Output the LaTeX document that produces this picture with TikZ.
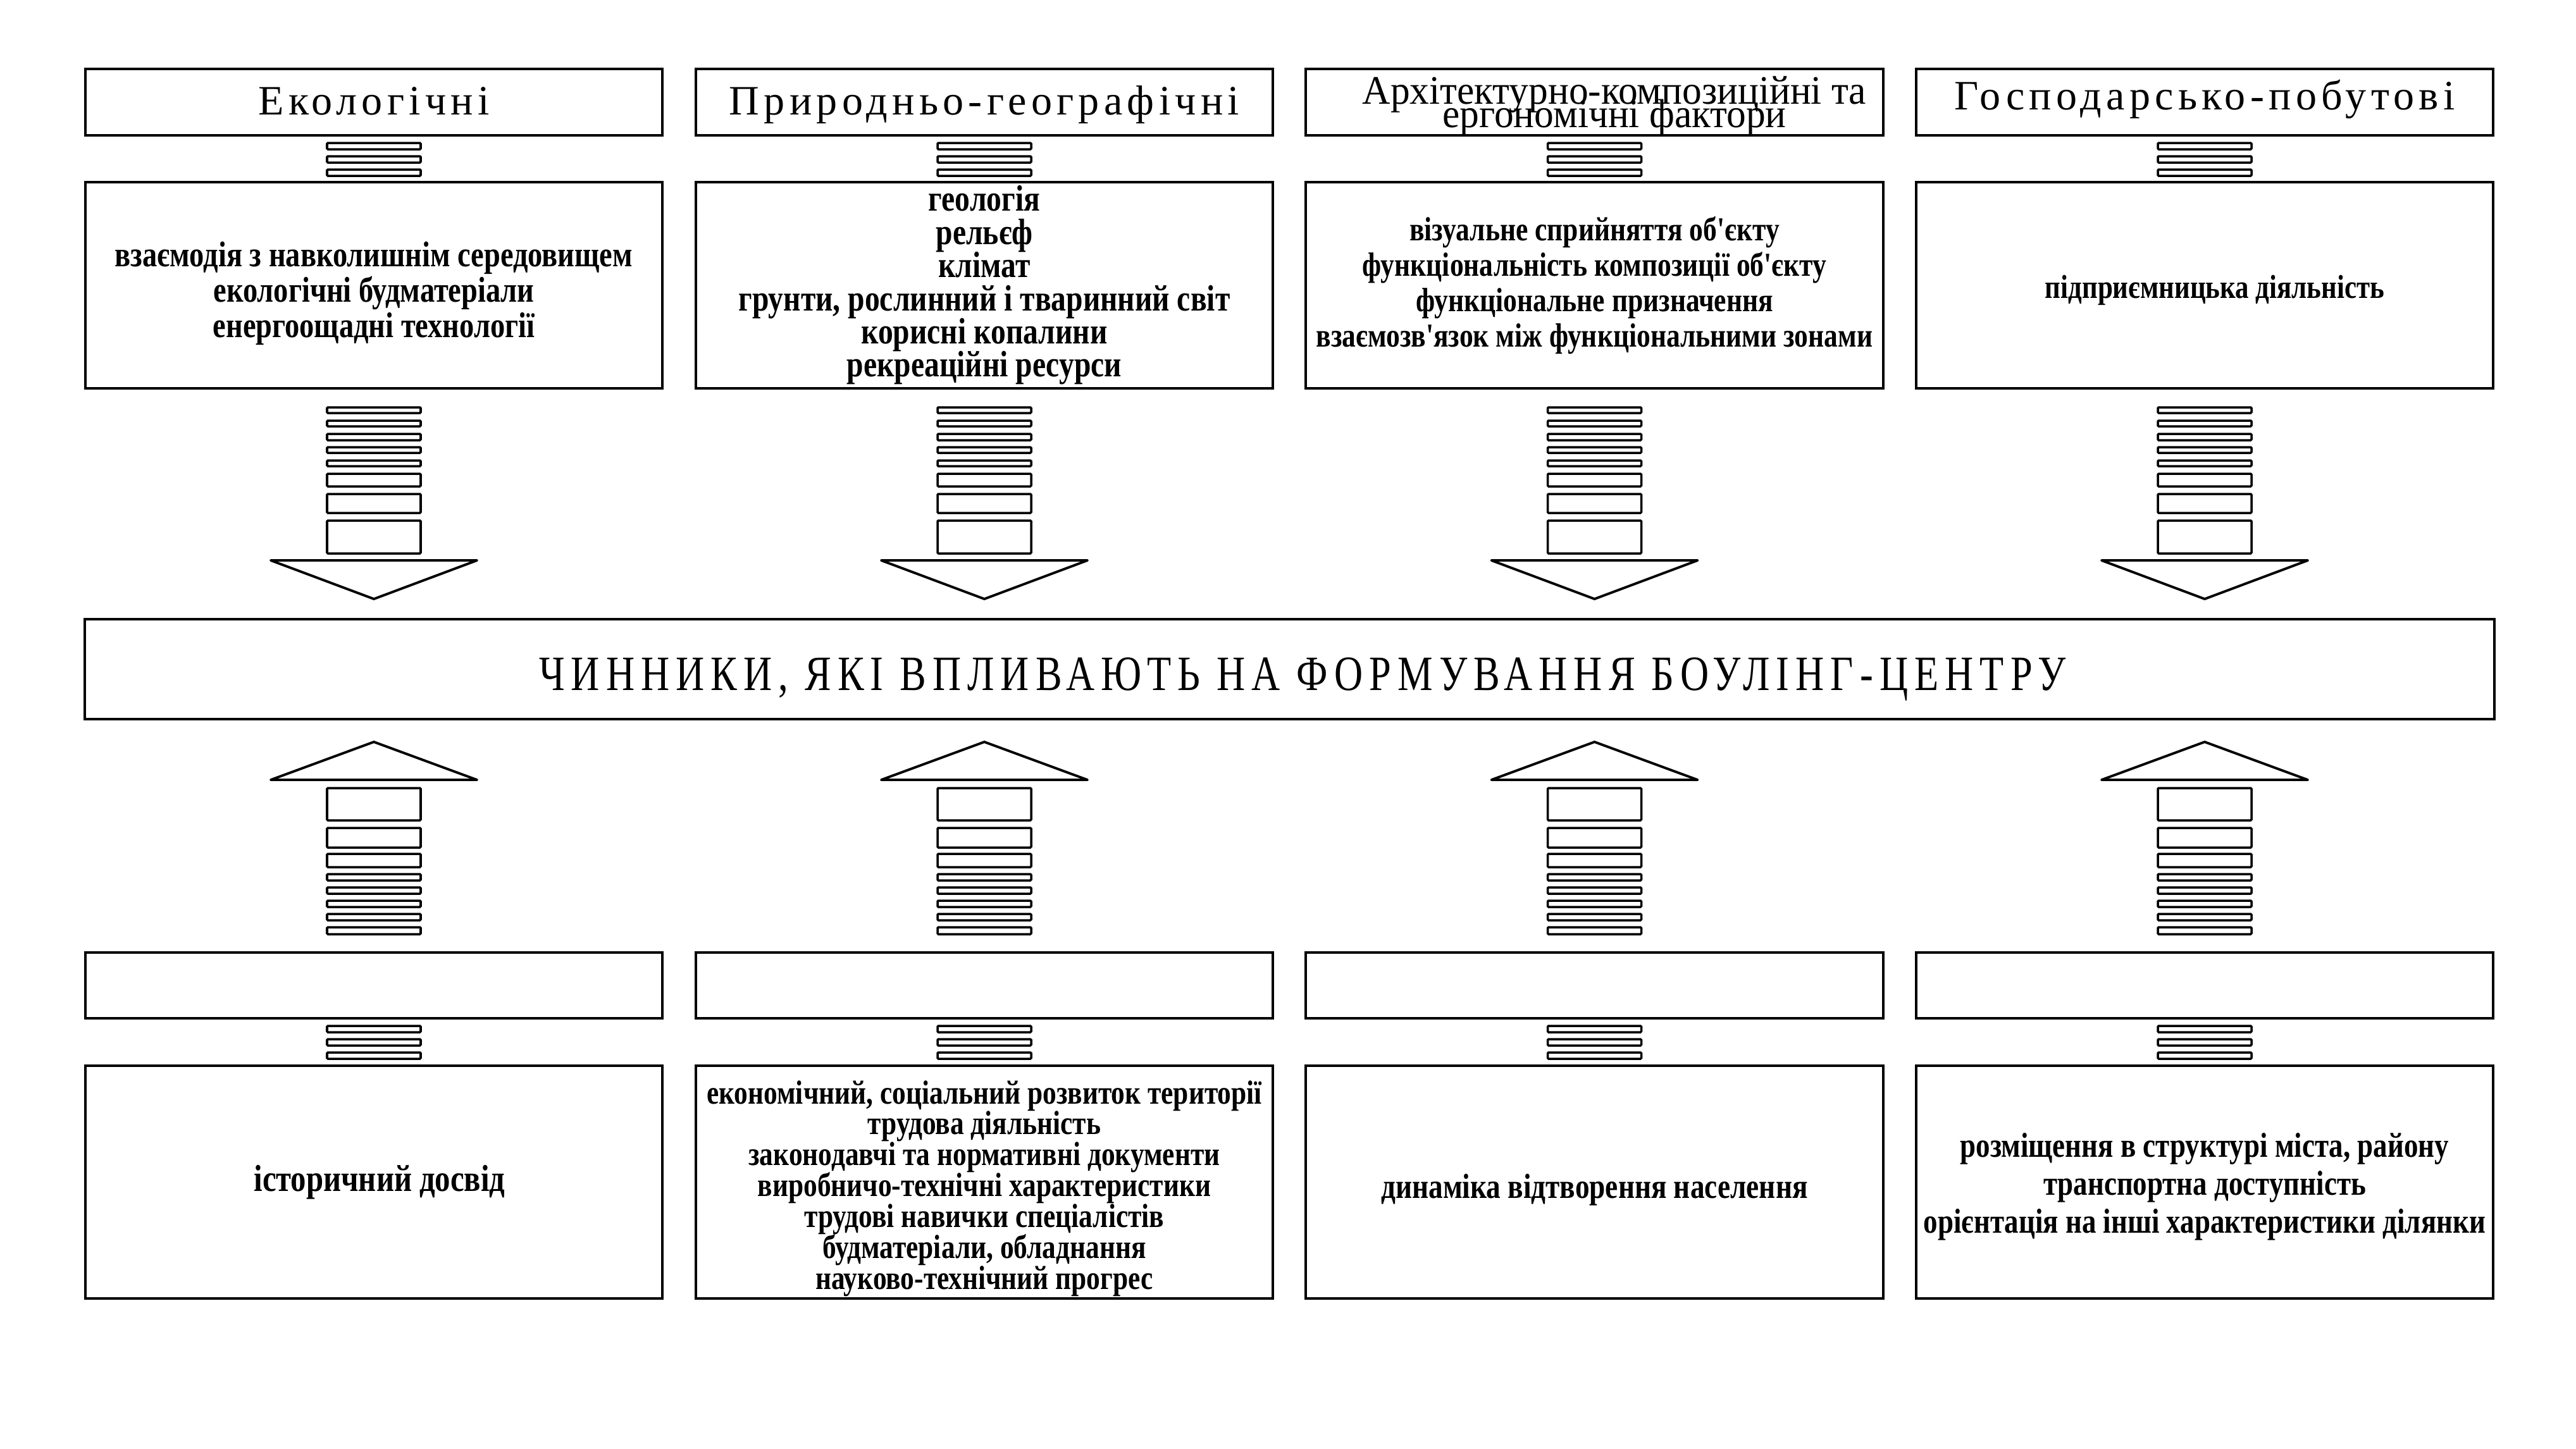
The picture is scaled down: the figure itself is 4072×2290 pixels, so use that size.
\documentclass[tikz,border=0pt]{standalone}
\usepackage{fontspec}
\setmainfont{Liberation Serif}
\newfontfamily\hdrfont[LetterSpace=11]{Liberation Serif}
\newfontfamily\ctrfont[LetterSpace=13,FakeStretch=0.8]{Liberation Serif}
\newfontfamily\archfont[FakeStretch=0.96]{Liberation Serif}
\newfontfamily\cntfont[FakeStretch=0.82]{Liberation Serif}
\begin{document}
\begin{tikzpicture}[x=0.01cm,y=-0.01cm,
  box/.style={draw, line width=1.1pt, inner sep=0pt, minimum width=9.12cm},
  hbox/.style={box, minimum height=1.05cm},
  cbox/.style={box, minimum height=3.26cm},
  bbox/.style={box, minimum height=3.68cm},
  ebox/.style={box, minimum height=1.04cm},
  htxt/.style={anchor=base, inner sep=0pt, font={\hdrfont\fontsize{18.8pt}{20pt}\selectfont}},
  ctxt/.style 2 args={inner sep=0pt, align=center,
     font={\cntfont\bfseries\fontsize{#1}{#2}\selectfont\lineskiplimit=-30pt\relax}},
  stripe/.style={draw, line width=1pt, rounded corners=0.4pt},
  tri/.style={draw, line width=1.1pt, line join=round}]
\useasboundingbox (0,0) rectangle (4072,2290);

% top headers
\node[hbox] (h1) at (591,161.5) {};
\node[hbox] (h2) at (1556,161.5) {};
\node[hbox] (h3) at (2520.5,161.5) {};
\node[hbox] (h4) at (3485,161.5) {};
\node[htxt] (h1t) at (591,181) {Екологічні};
\node[htxt] (h2t) at (1556,181) {Природньо-географічні};
\node[anchor=base, inner sep=0pt, align=center,
      font={\archfont\fontsize{18.2pt}{10.4pt}\selectfont\lineskiplimit=-30pt\relax}]
      (h3t) at (2552,201) {Архітектурно-композиційні та\\ергономічні фактори};
\node[htxt] (h4t) at (3485,173) {Господарсько-побутові};

% top content
\node[cbox] (c1) at (591,451) {};
\node[cbox] (c2) at (1556,451) {};
\node[cbox] (c3) at (2520.5,451) {};
\node[cbox] (c4) at (3485,451) {};
\node[ctxt={16.1pt}{15.9pt}] (c1t) at (591,464) {взаємодія з навколишнім середовищем\\екологічні будматеріали\\енергоощадні технології};
\node[ctxt={16.5pt}{14.9pt}] (c2t) at (1556,451) {геологія\\рельєф\\клімат\\грунти, рослинний і тваринний світ\\корисні копалини\\рекреаційні ресурси};
\node[ctxt={15.1pt}{15.9pt}] (c3t) at (2520.5,451) {візуальне сприйняття об'єкту\\функціональність композиції об'єкту\\функціональне призначення\\взаємозв'язок між функціональними зонами};
\node[ctxt={14.9pt}{15.9pt}] (c4t) at (3501,459) {підприємницька діяльність};

% central
\node[box, minimum width=38.07cm, minimum height=1.58cm] (mid) at (2038.5,1058) {};
\node[anchor=base, inner sep=0pt, font={\ctrfont\fontsize{22.2pt}{24pt}\selectfont}] (midt) at (2059,1091) {ЧИННИКИ, ЯКІ ВПЛИВАЮТЬ НА ФОРМУВАННЯ БОУЛІНГ-ЦЕНТРУ};

% bottom empty headers
\node[ebox] (e1) at (591,1558) {};
\node[ebox] (e2) at (1556,1558) {};
\node[ebox] (e3) at (2520.5,1558) {};
\node[ebox] (e4) at (3485,1558) {};

% bottom content
\node[bbox] (b1) at (591,1869) {};
\node[bbox] (b2) at (1556,1869) {};
\node[bbox] (b3) at (2520.5,1869) {};
\node[bbox] (b4) at (3485,1869) {};
\node[ctxt={16.9pt}{15.9pt}] (b1t) at (600,1869) {історичний досвід};
\node[ctxt={15.05pt}{13.9pt}] (b2t) at (1556,1879) {економічний, соціальний розвиток території\\трудова діяльність\\законодавчі та нормативні документи\\виробничо-технічні характеристики\\трудові навички спеціалістів\\будматеріали, обладнання\\науково-технічний прогрес};
\node[ctxt={15.7pt}{15.9pt}] (b3t) at (2520.5,1881) {динаміка відтворення населення};
\node[ctxt={15.6pt}{17.1pt}] (b4t) at (3485,1876) {розміщення в структурі міста, району\\транспортна доступність\\орієнтація на інші характеристики ділянки};

% stripe stacks and arrows
\foreach \cx in {591,1556,2520.5,3485} {
  \foreach \a/\b in {226/236,247/257,268/278, 1622/1632,1643/1653,1664/1674,
                     644/653,665/674,686/696,707/716,728/737,749/769,781/811,823/875,
                     1246/1297,1309/1340,1350/1371,1382/1392,1403/1413,1424/1434,1445/1455,1466/1477}
    \draw[stripe] (\cx-74,\a) rectangle (\cx+74,\b);
  \draw[tri] (\cx-163,886) -- (\cx+163,886) -- (\cx,947) -- cycle;
  \draw[tri] (\cx-163,1233) -- (\cx+163,1233) -- (\cx,1173) -- cycle;
}
\end{tikzpicture}
\end{document}
